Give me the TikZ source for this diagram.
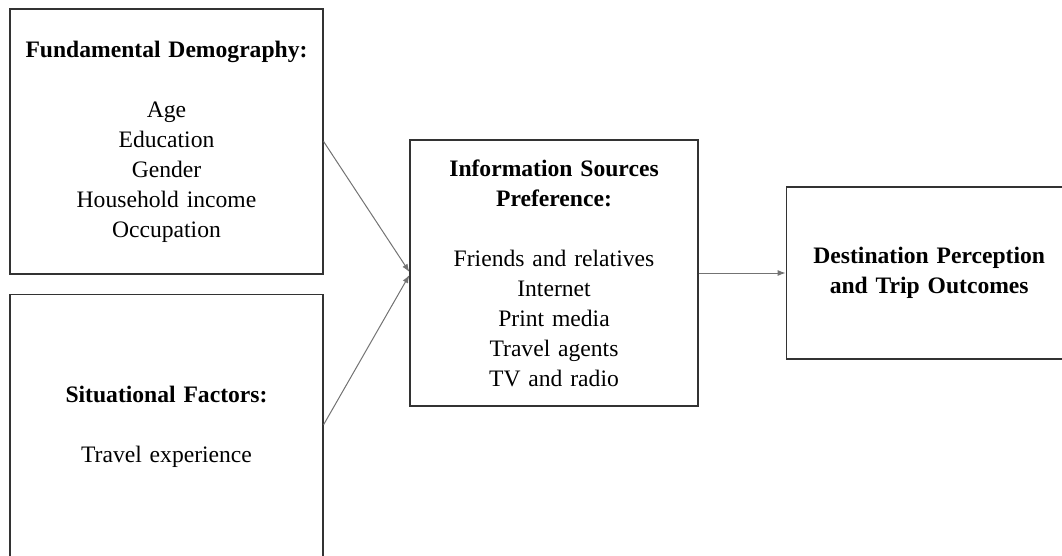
\documentclass[tikz,border=0pt]{standalone}
\usepackage{fontspec}
\setmainfont{Liberation Serif}
\usepackage{tikz}
\usetikzlibrary{arrows.meta, positioning}

\begin{document}
\begin{tikzpicture}[x=1pt, y=-1pt, every node/.style={align=center},
  box/.style={draw=black!80, rectangle, line width=1.2pt, inner sep=0pt,
    font=\fontsize{23.6pt}{30pt}\selectfont},
  link/.style={-{Latex[length=8pt, width=6pt]}, draw=black!55, line width=1pt}]
\useasboundingbox (0,0) rectangle (1062,556);
\node (Fund) [box, minimum width=313pt, minimum height=265pt, text width=300pt] at (166.5,141.5)
  {\textbf{Fundamental Demography:}\\[30pt]Age\\Education\\Gender\\Household income\\Occupation};
\node (Situ) [below=19pt of Fund, box, minimum width=313pt, minimum height=265pt, text width=300pt]
  {\textbf{Situational Factors:}\\[30pt]Travel experience};
\node (Info) [box, minimum width=288pt, minimum height=266pt, text width=280pt] at (554,273)
  {\textbf{Information Sources}\\\textbf{Preference:}\\[30pt]Friends and relatives\\Internet\\Print media\\Travel agents\\TV and radio};
\node (Dest) [right=87pt of Info, box, minimum width=286pt, minimum height=172pt, text width=280pt]
  {\textbf{Destination Perception}\\\textbf{and Trip Outcomes}};
\draw[link] (Fund.east) -- ([yshift=1pt]Info.west);
\draw[link] ([yshift=2pt]Situ.east) -- ([yshift=-2pt]Info.west);
\draw[link] (Info) -- (Dest);
\end{tikzpicture}
\end{document}
